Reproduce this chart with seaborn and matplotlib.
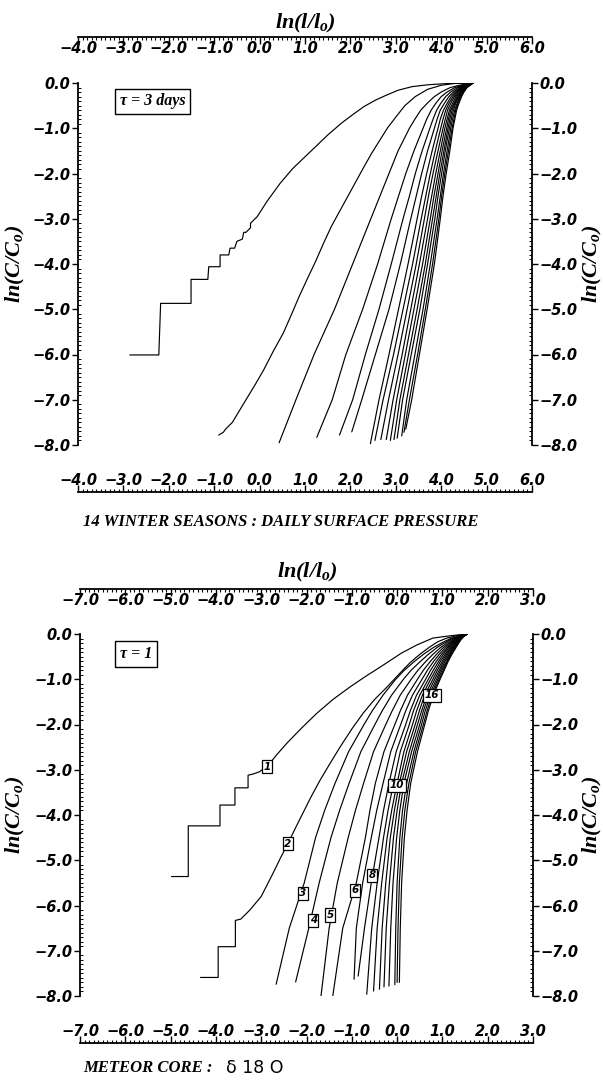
import numpy as np
import pandas as pd
import matplotlib
matplotlib.use("Agg")
import matplotlib.pyplot as plt
import seaborn as sns
from matplotlib.ticker import MultipleLocator, FuncFormatter

sns.set_theme(style="white")
plt.rcParams['font.family'] = ['DejaVu Sans']
plt.rcParams['font.weight'] = 'bold'
plt.rcParams['font.style'] = 'italic'
plt.rcParams['text.color'] = 'black'
plt.rcParams['xtick.color'] = 'black'
plt.rcParams['ytick.color'] = 'black'
plt.rcParams['mathtext.fontset'] = 'custom'
plt.rcParams['mathtext.it'] = 'Liberation Serif:italic:bold'
plt.rcParams['mathtext.rm'] = 'Liberation Serif:italic:bold'

# ---------------- top panel : 14 winter seasons, tau = 3 days ----------------
top_c1_x = [4.7, 4.3, 4.0, 3.7, 3.36, 3.05, 2.79, 2.55, 2.30, 2.05, 1.80, 1.5, 1.23, 0.98, 0.73,
            0.45, 0.16, -0.05, -0.15, -0.2, -0.2, -0.3, -0.35, -0.38, -0.5, -0.55, -0.65, -0.68,
            -0.87, -0.87, -1.12, -1.14, -1.51, -1.51, -2.18, -2.22, -2.86]
top_c1_y = [0.0, -0.005, -0.02, -0.04, -0.08, -0.16, -0.27, -0.38, -0.52, -0.70, -0.89, -1.15, -1.41,
            -1.65, -1.89, -2.22, -2.62, -2.95, -3.05, -3.1, -3.2, -3.3, -3.3, -3.45, -3.5, -3.65,
            -3.65, -3.8, -3.8, -4.06, -4.06, -4.34, -4.34, -4.87, -4.87, -6.01, -6.01]
top_c2_x = [4.7, 4.3, 4.0, 3.7, 3.43, 3.2, 3.01, 2.82, 2.65, 2.47, 2.30, 2.12, 1.94, 1.76, 1.58,
            1.40, 1.23, 1.05, 0.87, 0.70, 0.52, 0.30, 0.09, -0.1, -0.3, -0.6, -0.75, -0.8, -0.9]
top_c2_y = [0.0, -0.01, -0.05, -0.14, -0.30, -0.5, -0.74, -0.99, -1.26, -1.55, -1.85, -2.18, -2.51,
            -2.84, -3.17, -3.56, -3.95, -4.33, -4.72, -5.12, -5.53, -5.93, -6.34, -6.67, -7.0,
            -7.5, -7.65, -7.72, -7.78]
# curves 3..16 : x read at fixed levels of ln(C/C0), then the bottom end point
top_levels = [0.0, -0.05, -0.1, -0.2, -0.3, -0.45, -0.6, -0.8, -1.0, -1.5, -2.0, -2.5, -3.0,
              -4.0, -5.0, -6.0, -7.0]
top_bundle_x = [
    [4.7, 4.40, 4.20, 4.00, 3.85, 3.69, 3.55, 3.42, 3.30, 3.05, 2.85, 2.65, 2.45, 2.05, 1.65, 1.20, 0.80],
    [4.7, 4.46, 4.30, 4.13, 4.00, 3.88, 3.78, 3.68, 3.60, 3.40, 3.22, 3.06, 2.90, 2.60, 2.27, 1.90, 1.60],
    [4.7, 4.50, 4.36, 4.21, 4.10, 3.99, 3.90, 3.82, 3.75, 3.58, 3.43, 3.30, 3.16, 2.90, 2.63, 2.33, 2.05],
    [4.7, 4.52, 4.40, 4.27, 4.17, 4.07, 3.98, 3.91, 3.85, 3.70, 3.57, 3.45, 3.33, 3.10, 2.85, 2.55, 2.25],
    [4.7, 4.54, 4.43, 4.31, 4.22, 4.13, 4.05, 3.98, 3.93, 3.80, 3.68, 3.57, 3.47, 3.27, 3.06, 2.85, 2.63],
    [4.7, 4.56, 4.45, 4.34, 4.26, 4.17, 4.10, 4.04, 3.99, 3.87, 3.76, 3.66, 3.56, 3.37, 3.16, 2.95, 2.72],
    [4.7, 4.57, 4.47, 4.37, 4.29, 4.21, 4.14, 4.09, 4.04, 3.93, 3.82, 3.72, 3.63, 3.45, 3.25, 3.05, 2.84],
    [4.7, 4.58, 4.49, 4.40, 4.32, 4.25, 4.18, 4.13, 4.08, 3.98, 3.88, 3.79, 3.70, 3.52, 3.33, 3.14, 2.94],
    [4.7, 4.59, 4.51, 4.42, 4.35, 4.28, 4.21, 4.16, 4.12, 4.02, 3.93, 3.84, 3.76, 3.59, 3.40, 3.21, 3.02],
    [4.7, 4.60, 4.53, 4.44, 4.37, 4.30, 4.24, 4.19, 4.15, 4.06, 3.97, 3.89, 3.81, 3.65, 3.47, 3.28, 3.09],
    [4.7, 4.61, 4.54, 4.46, 4.39, 4.32, 4.27, 4.22, 4.18, 4.09, 4.01, 3.93, 3.86, 3.70, 3.53, 3.34, 3.15],
    [4.7, 4.62, 4.55, 4.47, 4.41, 4.35, 4.30, 4.25, 4.21, 4.13, 4.05, 3.98, 3.91, 3.76, 3.60, 3.42, 3.24],
    [4.7, 4.63, 4.56, 4.49, 4.43, 4.37, 4.32, 4.28, 4.24, 4.16, 4.08, 4.01, 3.95, 3.81, 3.65, 3.48, 3.30],
    [4.7, 4.64, 4.57, 4.50, 4.45, 4.39, 4.34, 4.30, 4.26, 4.19, 4.11, 4.04, 3.98, 3.85, 3.69, 3.52, 3.35],
]
top_end_x = [0.43, 1.26, 1.76, 2.03, 2.44, 2.54, 2.67, 2.79, 2.88, 2.96, 3.03, 3.13, 3.18, 3.22]
top_end_y = [-7.95, -7.83, -7.78, -7.71, -7.97, -7.90, -7.88, -7.88, -7.90, -7.88, -7.85, -7.80, -7.72, -7.65]

# ---------------- bottom panel : meteor core, tau = 1 ----------------
bot_c1_x = [1.55, 1.17, 0.79, 0.44, 0.1, -0.31, -0.7, -1.04, -1.42, -1.77, -2.1, -2.43, -2.65,
            -2.87, -3.05, -3.2, -3.29, -3.29, -3.58, -3.58, -3.91, -3.91, -4.61, -4.61, -4.98]
bot_c1_y = [0.0, -0.04, -0.09, -0.24, -0.42, -0.69, -0.94, -1.17, -1.45, -1.75, -2.07, -2.41, -2.66,
            -2.93, -3.05, -3.1, -3.12, -3.4, -3.4, -3.78, -3.78, -4.24, -4.24, -5.36, -5.36]
bot_c2_x = [1.55, 1.3, 1.1, 0.9, 0.73, 0.5, 0.28, 0.03, -0.22, -0.5, -0.75, -1.0, -1.26, -1.48,
            -1.70, -1.9, -2.08, -2.25, -2.41, -2.58, -2.74, -3.0, -3.25, -3.45, -3.57, -3.57,
            -3.95, -3.95, -4.34]
bot_c2_y = [0.0, -0.04, -0.09, -0.17, -0.28, -0.45, -0.64, -0.9, -1.17, -1.45, -1.75, -2.1, -2.5,
            -2.86, -3.23, -3.6, -3.96, -4.3, -4.63, -4.96, -5.29, -5.8, -6.1, -6.3, -6.33, -6.91,
            -6.91, -7.59, -7.59]
bot_levels = [0.0, -0.05, -0.1, -0.2, -0.3, -0.45, -0.6, -0.8, -1.0, -1.35, -1.7, -2.0, -2.6,
              -3.3, -3.9, -4.5, -5.5, -6.5]
bot_bundle_x = [
    [1.55, 1.35, 1.18, 0.98, 0.80, 0.58, 0.39, 0.16, -0.03, -0.31, -0.55, -0.73, -1.07, -1.37, -1.60, -1.80, -2.05, -2.38],
    [1.55, 1.37, 1.22, 1.04, 0.88, 0.69, 0.52, 0.31, 0.14, -0.12, -0.33, -0.49, -0.80, -1.06, -1.27, -1.46, -1.72, -1.95],
    [1.55, 1.39, 1.26, 1.10, 0.96, 0.79, 0.64, 0.46, 0.31, 0.07, -0.11, -0.25, -0.52, -0.74, -0.92, -1.08, -1.32, -1.50],
    [1.55, 1.41, 1.29, 1.15, 1.02, 0.87, 0.74, 0.58, 0.45, 0.23, 0.07, -0.05, -0.29, -0.48, -0.60, -0.70, -0.90, -1.20],
    [1.55, 1.42, 1.31, 1.18, 1.07, 0.93, 0.81, 0.67, 0.55, 0.34, 0.19, 0.08, -0.14, -0.31, -0.45, -0.57, -0.76, -0.90],
    [1.55, 1.43, 1.33, 1.21, 1.11, 0.98, 0.87, 0.74, 0.63, 0.43, 0.29, 0.19, -0.02, -0.18, -0.30, -0.40, -0.57, -0.72],
    [1.55, 1.44, 1.35, 1.24, 1.14, 1.02, 0.92, 0.80, 0.69, 0.50, 0.36, 0.27, 0.07, -0.08, -0.20, -0.30, -0.44, -0.56],
    [1.55, 1.45, 1.36, 1.26, 1.17, 1.06, 0.96, 0.85, 0.74, 0.56, 0.43, 0.34, 0.15, 0.00, -0.12, -0.22, -0.34, -0.44],
    [1.55, 1.45, 1.38, 1.28, 1.20, 1.09, 1.00, 0.89, 0.79, 0.61, 0.49, 0.40, 0.21, 0.05, -0.06, -0.15, -0.25, -0.33],
    [1.55, 1.46, 1.39, 1.30, 1.22, 1.12, 1.03, 0.93, 0.83, 0.66, 0.54, 0.45, 0.27, 0.10, 0.00, -0.08, -0.17, -0.24],
    [1.55, 1.46, 1.40, 1.32, 1.24, 1.15, 1.06, 0.96, 0.87, 0.70, 0.58, 0.50, 0.32, 0.15, 0.06, -0.01, -0.09, -0.14],
    [1.55, 1.47, 1.41, 1.33, 1.26, 1.17, 1.09, 0.99, 0.90, 0.74, 0.62, 0.54, 0.37, 0.21, 0.12, 0.06, 0.00, -0.03],
    [1.55, 1.47, 1.42, 1.35, 1.28, 1.19, 1.11, 1.02, 0.93, 0.77, 0.66, 0.58, 0.41, 0.26, 0.17, 0.11, 0.05, 0.02],
    [1.55, 1.48, 1.43, 1.36, 1.30, 1.21, 1.13, 1.04, 0.95, 0.80, 0.69, 0.61, 0.45, 0.30, 0.22, 0.16, 0.10, 0.07],
]
bot_end_x = [-2.67, -2.24, -1.68, -1.42, -0.95, -0.86, -0.67, -0.52, -0.39, -0.29, -0.18, -0.05, 0.00, 0.05]
bot_end_y = [-7.74, -7.69, -8.00, -8.00, -7.63, -7.56, -7.96, -7.89, -7.85, -7.80, -7.78, -7.75, -7.70, -7.70]

# boxed curve numbers in the bottom panel
bot_label_text = ['1', '2', '3', '4', '5', '6', '8', '10', '16']
bot_label_x = [-2.87, -2.41, -2.08, -1.85, -1.48, -0.93, -0.55, 0.00, 0.77]
bot_label_y = [-2.93, -4.63, -5.73, -6.33, -6.21, -5.66, -5.33, -3.34, -1.35]


def long_table(c1x, c1y, c2x, c2y, levels, bundle, endx, endy):
    rows = []
    for k, (xs, ys) in enumerate([(c1x, c1y), (c2x, c2y)], start=1):
        for i, (a, b) in enumerate(zip(xs, ys)):
            rows.append((k, i, a, b))
    for j, xs in enumerate(bundle):
        k = j + 3
        pts = list(zip(xs, levels)) + [(endx[j], endy[j])]
        for i, (a, b) in enumerate(pts):
            rows.append((k, i, a, b))
    return pd.DataFrame(rows, columns=['curve', 'order', 'x', 'y'])


df_top = long_table(top_c1_x, top_c1_y, top_c2_x, top_c2_y, top_levels, top_bundle_x, top_end_x, top_end_y)
df_bot = long_table(bot_c1_x, bot_c1_y, bot_c2_x, bot_c2_y, bot_levels, bot_bundle_x, bot_end_x, bot_end_y)

W, H = 603, 1082
fig = plt.figure(figsize=(W / 100, H / 100), dpi=100)
ax1 = fig.add_axes([78 / W, 1 - 445 / H, 454 / W, 362 / H])
ax2 = fig.add_axes([80 / W, 1 - 996 / H, 453 / W, 362 / H])


def fmt(v, pos):
    if abs(v) < 1e-9:
        v = 0.0
    return f"{v:.1f}".replace('-', '\u2212')


def style(ax, xlim, top_off, bot_off):
    ax.set_xlim(*xlim)
    ax.set_ylim(-8, 0)
    ax.set_facecolor('white')
    for s in ax.spines.values():
        s.set_visible(True)
        s.set_linewidth(1.3)
        s.set_color('black')
    ax.spines['top'].set_position(('outward', top_off * 0.72))
    ax.spines['bottom'].set_position(('outward', bot_off * 0.72))
    ax.xaxis.set_major_locator(MultipleLocator(1))
    ax.xaxis.set_minor_locator(MultipleLocator(0.1))
    ax.yaxis.set_major_locator(MultipleLocator(1))
    ax.yaxis.set_minor_locator(MultipleLocator(0.1))
    ax.xaxis.set_major_formatter(FuncFormatter(fmt))
    ax.yaxis.set_major_formatter(FuncFormatter(fmt))
    ax.tick_params(axis='x', which='both', top=True, bottom=True, labeltop=True,
                   labelbottom=True, direction='in', colors='black')
    ax.tick_params(axis='x', which='major', length=5, width=1, pad=-14, labelsize=10.5)
    ax.tick_params(axis='x', which='minor', length=2.5, width=0.8)
    ax.tick_params(axis='y', which='both', left=True, right=True, labelleft=True,
                   labelright=True, colors='black')
    ax.tick_params(axis='y', which='major', direction='out', length=4, width=1, pad=1.5,
                   labelsize=10.5)
    ax.tick_params(axis='y', which='minor', direction='in', length=2.2, width=0.7)
    ax.set_xlabel('')
    ax.set_ylabel('')
    ax.grid(False)


for ax, df in [(ax1, df_top), (ax2, df_bot)]:
    sns.lineplot(data=df, x='x', y='y', units='curve', estimator=None, sort=False,
                 color='black', lw=0.85, ax=ax, legend=False)

style(ax1, (-4, 6), 46, 47)
style(ax2, (-7, 3), 45, 47)

box = dict(boxstyle='square,pad=0.3', fc='white', ec='black', lw=1)
ax1.text(0.092, 0.949, '\u03c4 = 3 days', transform=ax1.transAxes, ha='left', va='center',
         fontsize=11.5, family='Liberation Serif', bbox=box)
ax2.text(0.088, 0.945, '\u03c4 = 1', transform=ax2.transAxes, ha='left', va='center',
         fontsize=11.5, family='Liberation Serif', bbox=box)

small_box = dict(boxstyle='square,pad=0.15', fc='white', ec='black', lw=0.9)
for t, x, y in zip(bot_label_text, bot_label_x, bot_label_y):
    ax2.text(x, y, t, ha='center', va='center', fontsize=7.5, bbox=small_box, zorder=5)

lab = '$ln(l/l_o)$'
ylab = '$ln(C/C_o)$'
fig.text(305 / W, 1 - 23 / H, lab, ha='center', va='center', fontsize=16)
fig.text(307 / W, 1 - 572 / H, lab, ha='center', va='center', fontsize=16)
for yc in (264, 815):
    fig.text(15 / W, 1 - yc / H, ylab, ha='center', va='center', rotation=90, fontsize=16)
    fig.text(592 / W, 1 - yc / H, ylab, ha='center', va='center', rotation=90, fontsize=16)

fig.text(83 / W, 1 - 522 / H, '14 WINTER SEASONS : DAILY SURFACE PRESSURE',
         family='Liberation Serif', fontsize=12, va='center')
fig.text(83 / W, 1 - 1068 / H, 'METEOR CORE :', family='Liberation Serif', fontsize=12, va='center')
fig.text(226 / W, 1 - 1068 / H, '\u03b4 18 O', family='DejaVu Sans', fontsize=12.5,
         fontweight='normal', fontstyle='normal', va='center')

fig.savefig('out.png', dpi=100, facecolor='white')
